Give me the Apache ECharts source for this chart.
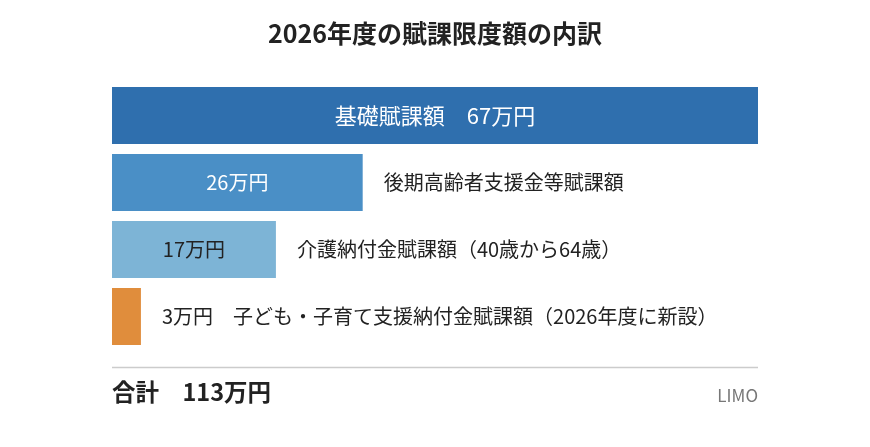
<!DOCTYPE html>
<html><head><meta charset="utf-8">
<script src="https://cdn.jsdelivr.net/npm/echarts@6/dist/echarts.min.js"></script>
<style>html,body{margin:0;padding:0;background:#fff}#c{width:870px;height:447px}</style>
</head><body><div id="c"></div>
<script>
var categories = ['基礎賦課額', '後期高齢者支援金等賦課額', '介護納付金賦課額（40歳から64歳）', '子ども・子育て支援納付金賦課額（2026年度に新設）'];
var values = [67, 26, 17, 3];
var barColors = ['#2f6fae', '#4a8fc6', '#7db4d6', '#e08d3c'];
var insideLabels = ['基礎賦課額　67万円', '26万円', '17万円', ''];
var insideLabelColors = ['#ffffff', '#ffffff', '#222222', '#222222'];
var insideLabelSizes = [22, 20, 20, 20];
var outsideLabels = ['', '後期高齢者支援金等賦課額', '介護納付金賦課額（40歳から64歳）', '3万円　子ども・子育て支援納付金賦課額（2026年度に新設）'];
var titleText = '2026年度の賦課限度額の内訳';
var totalText = '合計　113万円';
var sourceText = 'LIMO';

var FONT = '"Noto Sans CJK JP", "Noto Sans", sans-serif';
var chart = echarts.init(document.getElementById('c'), null, {renderer: 'canvas'});
chart.setOption({
  animation: false,
  textStyle: {fontFamily: FONT},
  title: {
    text: titleText, left: 'center', top: 16,
    textStyle: {fontFamily: FONT, fontSize: 25, fontWeight: 'bold', color: '#222'}
  },
  grid: {left: 112, right: 112, top: 82, height: 268},
  xAxis: {type: 'value', min: 0, max: 67, show: false},
  yAxis: {type: 'category', data: categories, inverse: true, show: false},
  series: [
    {
      type: 'bar', barWidth: 57, z: 2,
      data: values.map(function (v, i) {
        return {value: v, itemStyle: {color: barColors[i]},
          label: {show: !!insideLabels[i], color: insideLabelColors[i], fontSize: insideLabelSizes[i]}};
      }),
      label: {
        position: 'inside', fontFamily: FONT, fontSize: 20,
        formatter: function (p) { return insideLabels[p.dataIndex]; }
      }
    },
    {
      type: 'bar', barWidth: 57, barGap: '-100%', z: 1,
      itemStyle: {color: 'rgba(0,0,0,0)'},
      data: values.map(function (v, i) {
        return {value: v, label: {show: !!outsideLabels[i]}};
      }),
      label: {
        position: 'right', distance: 21, fontFamily: FONT, fontSize: 20, color: '#222',
        formatter: function (p) { return outsideLabels[p.dataIndex]; }
      }
    }
  ],
  graphic: [
    {type: 'line', shape: {x1: 112, y1: 367.5, x2: 758, y2: 367.5},
      style: {stroke: '#cccccc', lineWidth: 1.5}},
    {type: 'text', left: 112, top: 380,
      style: {text: totalText, font: 'bold 23.5px ' + FONT, fill: '#222'}},
    {type: 'text', right: 112, top: 387,
      style: {text: sourceText, font: '17px ' + FONT, fill: '#777'}}
  ]
});
</script></body></html>
